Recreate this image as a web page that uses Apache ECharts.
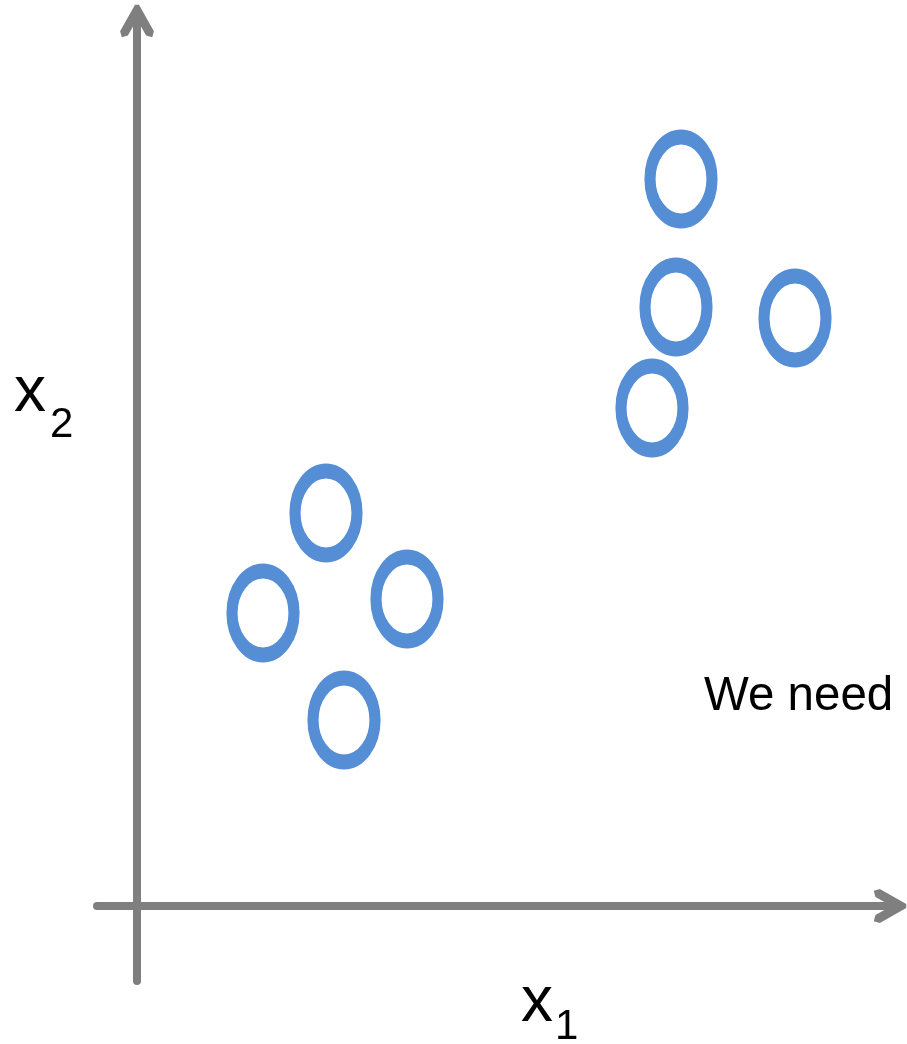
<!doctype html>
<html lang="en">
<head>
    <meta charset="utf-8">
    <title>x1 / x2 scatter</title>
    <style>
        html, body {
            margin: 0;
            padding: 0;
            background: #fff;
        }
        #chart {
            width: 907px;
            height: 1044px;
        }
    </style>
</head>
<body>
    <div id="chart"></div>
    <script src="https://cdn.jsdelivr.net/npm/echarts@6/dist/echarts.min.js"></script>
    <script>
        // two groups of points (1 unit = 100px)
        var clusterA = [
            [1.89, 3.93],
            [1.26, 2.93],
            [2.70, 3.07],
            [2.07, 1.86]
        ];
        var clusterB = [
            [5.44, 7.27],
            [5.39, 5.99],
            [6.58, 5.88],
            [5.15, 4.98]
        ];
        var xRange = [-0.4, 7.61];
        var yRange = [-0.75, 8.93];

        var axisGrey = '#7f7f7f';
        var ringBlue = '#558ed5';
        var fontFam = '"Liberation Sans", Arial, sans-serif';

        // open chevron arrow head, pointing up
        var chevron = 'path://M15,0L19,0L33.9,26.4L32.2,32.5L26.1,30.8L17,14.7L7.9,30.8L1.8,32.5L0.1,26.4Z';
        var ellipse = 'path://M0,-42A31,42,0,1,1,0,42A31,42,0,1,1,0,-42Z';

        var chart = echarts.init(document.getElementById('chart'), null, {
            width: 907,
            height: 1044
        });

        function axisOpt(range) {
            return {
                type: 'value',
                min: range[0],
                max: range[1],
                axisLine: {
                    show: true,
                    onZero: true,
                    symbol: ['none', chevron],
                    symbolSize: [34, 32.5],
                    symbolOffset: [0, -8],
                    lineStyle: { color: axisGrey, width: 8 }
                },
                axisTick: { show: false },
                axisLabel: { show: false },
                splitLine: { show: false }
            };
        }

        var ringStyle = {
            color: 'rgba(255,255,255,0)',
            borderColor: ringBlue,
            borderWidth: 13,
            opacity: 1
        };

        function txt(str, x, y, size) {
            return {
                type: 'text',
                silent: true,
                x: x,
                y: y,
                style: {
                    text: str,
                    fontSize: size,
                    fontFamily: fontFam,
                    fill: '#000',
                    verticalAlign: 'bottom'
                }
            };
        }

        chart.setOption({
            backgroundColor: '#fff',
            animation: false,
            grid: { left: 97, right: 9, top: 13, bottom: 63 },
            xAxis: axisOpt(xRange),
            yAxis: axisOpt(yRange),
            series: [{
                type: 'scatter',
                symbol: ellipse,
                symbolSize: [62, 84],
                itemStyle: ringStyle,
                data: clusterA
            }, {
                type: 'scatter',
                symbol: ellipse,
                symbolSize: [62, 84],
                itemStyle: ringStyle,
                data: clusterB
            }],
            graphic: [
                txt('x', 14, 425, 64),
                txt('2', 50, 446, 42),
                txt('x', 521, 1035, 64),
                txt('1', 555, 1048, 42),
                txt('We need to', 704, 721, 47.5)
            ]
        });
    </script>
</body>
</html>
